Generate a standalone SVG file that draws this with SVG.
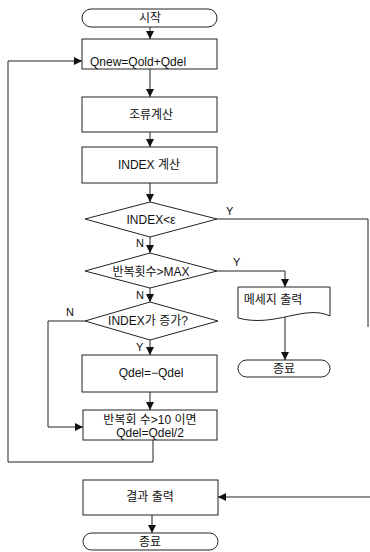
<svg xmlns="http://www.w3.org/2000/svg" width="370" height="552" viewBox="0 0 370 552">
<style>
.s{fill:#fff;stroke:#222;stroke-width:1}
.c{fill:none;stroke:#222;stroke-width:1}
text{font-family:"Liberation Sans","Noto Sans CJK KR",sans-serif;font-size:12px;fill:#111}
.m{text-anchor:middle;dominant-baseline:central}
.l{font-size:11px}
</style>
<defs>
<marker id="a" viewBox="0 0 10 10" refX="10" refY="5" markerWidth="8" markerHeight="8" markerUnits="userSpaceOnUse" orient="auto">
<path d="M0,0L10,5L0,10Z" fill="#111"/>
</marker>
</defs>
<rect width="370" height="552" fill="#fff"/>
<g id="connectors">
<path class="c" d="M150,27V39" marker-end="url(#a)"/>
<path class="c" d="M150,69V97" marker-end="url(#a)"/>
<path class="c" d="M150,132V147" marker-end="url(#a)"/>
<path class="c" d="M150,183V202" marker-end="url(#a)"/>
<path class="c" d="M217,219H368V327"/>
<path class="c" d="M150,237V253" marker-end="url(#a)"/>
<path class="c" d="M217,271H285V287" marker-end="url(#a)"/>
<path class="c" d="M285,316V360" marker-end="url(#a)"/>
<path class="c" d="M150,288V302" marker-end="url(#a)"/>
<path class="c" d="M85,321H48V427H83" marker-end="url(#a)"/>
<path class="c" d="M150,340V355" marker-end="url(#a)"/>
<path class="c" d="M150,392V410" marker-end="url(#a)"/>
<path class="c" d="M153,440V462H8V61H82" marker-end="url(#a)"/>
<path class="c" d="M370,497H218" marker-end="url(#a)"/>
<path class="c" d="M152,515V533" marker-end="url(#a)"/>
<text class="l" x="226" y="215">Y</text>
<text class="l" x="136" y="247">N</text>
<text class="l" x="233" y="266">Y</text>
<text class="l" x="136" y="299">N</text>
<text class="l" x="66" y="316">N</text>
<text class="l" x="136" y="351">Y</text>
</g>
<g id="start">
<rect class="s" x="82" y="9" width="135" height="18" rx="9"/>
<text class="m" x="150" y="18">시작</text>
</g>
<g id="qnew">
<rect class="s" x="82" y="39" width="135" height="30"/>
<text x="90" y="66">Qnew=Qold+Qdel</text>
</g>
<g id="flow">
<rect class="s" x="82" y="97" width="135" height="35"/>
<text class="m" x="151" y="115">조류계산</text>
</g>
<g id="index">
<rect class="s" x="82" y="147" width="135" height="36"/>
<text class="m" x="149" y="165">INDEX 계산</text>
</g>
<g id="d1">
<polygon class="s" points="85,219 150,202 217,219 150,237"/>
<text class="m" x="151" y="220">INDEX&lt;ε</text>
</g>
<g id="d2">
<polygon class="s" points="85,271 150,253 217,271 150,288"/>
<text class="m" x="151" y="272">반복횟수&gt;MAX</text>
</g>
<g id="msg">
<path class="s" d="M238,287H330V316C305,304 275,328 238,318Z"/>
<text class="m" x="273" y="300">메세지 출력</text>
</g>
<g id="end2">
<rect class="s" x="238" y="360" width="92" height="17" rx="8.5"/>
<text class="m" x="284" y="368.5">종료</text>
</g>
<g id="d3">
<polygon class="s" points="85,321 150,302 218,321 150,340"/>
<text class="m" x="148" y="321">INDEX가 증가?</text>
</g>
<g id="qdel">
<rect class="s" x="82" y="355" width="135" height="37"/>
<text class="m" x="151" y="373">Qdel=−Qdel</text>
</g>
<g id="half">
<rect class="s" x="83" y="410" width="134" height="30"/>
<text class="m" x="150" y="420">반복회 수&gt;10 이면</text>
<text class="m" x="150" y="433">Qdel=Qdel/2</text>
</g>
<g id="result">
<rect class="s" x="83" y="480" width="135" height="35"/>
<text class="m" x="150" y="497">결과 출력</text>
</g>
<g id="end">
<rect class="s" x="83" y="533" width="135" height="17" rx="8.5"/>
<text class="m" x="150" y="541.5">종료</text>
</g>
</svg>
